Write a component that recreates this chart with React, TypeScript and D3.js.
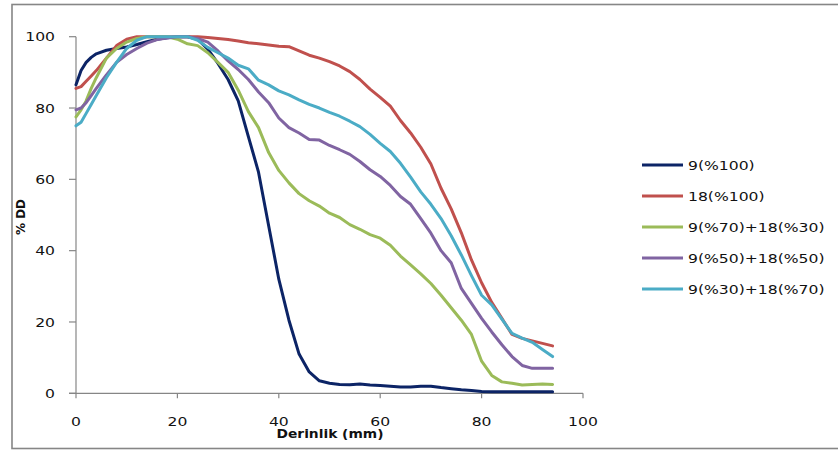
import React from "react";
import * as d3 from "d3";

const depth = [0, 1, 2, 3, 4, 6, 8, 10, 12, 14, 16, 18, 20, 22, 24, 26, 28, 30, 32, 34, 36, 38, 40, 42, 44, 46, 48, 50, 52, 54, 56, 58, 60, 62, 64, 66, 68, 70, 72, 74, 76, 78, 80, 82, 84, 86, 88, 90, 92, 94];

const s9_100 = [86.5, 90.5, 92.8, 94.2, 95.2, 96.2, 96.7, 97.1, 97.8, 98.6, 99.3, 99.7, 100, 100, 99.3, 96.5, 92.5, 88, 82, 72, 62, 47, 32, 20.5, 11, 6, 3.5, 2.8, 2.5, 2.4, 2.6, 2.3, 2.2, 2.0, 1.8, 1.8, 2.0, 2.0, 1.6, 1.3, 1.0, 0.8, 0.5, 0.4, 0.4, 0.4, 0.4, 0.4, 0.4, 0.4];
const s18_100 = [85.5, 86, 87.5, 89, 90.5, 94, 97.5, 99.3, 100, 100, 100, 100, 100, 100, 100, 99.8, 99.5, 99.2, 98.8, 98.3, 98, 97.7, 97.3, 97.2, 96, 94.8, 94, 93, 91.8, 90.2, 88, 85.3, 83, 80.5, 76.5, 73, 69, 64.3, 57.5, 51.7, 45, 37.4, 31, 25.5, 21, 16.5, 15.4, 14.7, 14, 13.3];
const s9_70_18_30 = [77.5, 79.5, 82, 85.5, 88.5, 94, 96.7, 98.5, 99.5, 100, 100, 100, 99.3, 98, 97.5, 95.5, 92.8, 90, 85, 79, 74.5, 67.5, 62.5, 59, 56, 54, 52.5, 50.5, 49.3, 47.3, 46, 44.5, 43.5, 41.5, 38.5, 36, 33.5, 30.8, 27.5, 24, 20.5, 16.5, 9, 5, 3.2, 2.8, 2.3, 2.5, 2.6, 2.5];
const s9_50_18_50 = [79.5, 80, 81.5, 83.5, 85.5, 89.3, 92.8, 95, 96.7, 98.2, 99.2, 99.6, 100, 100, 99.5, 98.5, 96, 93.2, 90.8, 88, 84.5, 81.5, 77.2, 74.5, 73, 71.2, 71, 69.5, 68.3, 67, 65, 62.7, 60.8, 58.3, 55.2, 53, 49, 44.9, 40, 36.6, 29.4, 25.2, 21, 17.2, 13.6, 10.3, 7.8, 7, 7, 7];
const s9_30_18_70 = [75, 76, 78.5, 81, 83.5, 88.5, 92.8, 96.7, 99, 100, 100, 100, 100, 100, 99, 97, 95.5, 94, 92, 91, 87.8, 86.5, 84.8, 83.7, 82.3, 81, 80, 78.8, 77.7, 76.3, 74.8, 72.6, 70.1, 67.8, 64.5, 60.6, 56.5, 53, 49, 44.2, 38.8, 33, 27.5, 24.8, 20.8, 16.8, 15.5, 14.3, 12.3, 10.3];

const seriesNames = ["9(%100)", "18(%100)", "9(%70)+18(%30)", "9(%50)+18(%50)", "9(%30)+18(%70)"];
const seriesColors = ["#0c2466", "#c0504d", "#9bbb59", "#8064a2", "#4bacc6"];
const seriesValues = [s9_100, s18_100, s9_70_18_30, s9_50_18_50, s9_30_18_70];

const xTicks = [0, 20, 40, 60, 80, 100];
const yTicks = [0, 20, 40, 60, 80, 100];
const xTitle = "Derinlik (mm)";
const yTitle = "% DD";

const W = 838;
const H = 452;
const FONT = "'DejaVu Sans', Verdana, sans-serif";
const SX = 1.25;

export default function App() {
  const x = d3.scaleLinear().domain([0, 100]).range([76, 583]);
  const y = d3.scaleLinear().domain([0, 100]).range([393.3, 36.7]);
  const axisColor = "#868686";

  const line = (vals: number[]) =>
    d3
      .line<number>()
      .x((_, i) => x(depth[i]))
      .y((v) => y(v))
      .curve(d3.curveLinear)(vals) || "";

  const legendY0 = 165;
  const legendStep = 31;

  return (
    <svg
      width={W}
      height={H}
      style={{ position: "absolute", left: 0, top: 0, background: "#fff" }}
      fontFamily={FONT}
    >
      <rect x={0} y={0} width={W} height={H} fill="#fff" />
      <rect x={12} y={4.5} width={840} height={444} fill="none" stroke={axisColor} strokeWidth={1.6} />

      {/* axes */}
      <line x1={x(0)} x2={x(0)} y1={y(100)} y2={y(0)} stroke={axisColor} strokeWidth={1.2} />
      <line x1={x(0) - 7} x2={x(100)} y1={y(0)} y2={y(0)} stroke={axisColor} strokeWidth={1.2} />
      {yTicks.map((t) => (
        <g key={"yt" + t}>
          <line x1={x(0) - 7} x2={x(0)} y1={y(t)} y2={y(t)} stroke={axisColor} strokeWidth={1.2} />
          <text
            transform={`translate(55,${y(t) + 4.6}) scale(${SX},1)`}
            textAnchor="end"
            fontSize={12.5}
            fill="#111"
          >
            {t}
          </text>
        </g>
      ))}
      {xTicks.map((t) => (
        <g key={"xt" + t}>
          <line x1={x(t)} x2={x(t)} y1={y(0)} y2={y(0) + 5} stroke={axisColor} strokeWidth={1.2} />
          <text
            transform={`translate(${x(t)},425.5) scale(${SX},1)`}
            textAnchor="middle"
            fontSize={12.5}
            fill="#111"
          >
            {t}
          </text>
        </g>
      ))}

      <text
        transform={`translate(330,438) scale(1.2,1)`}
        textAnchor="middle"
        fontSize={11.5}
        fontWeight="bold"
        fill="#111"
      >
        {xTitle}
      </text>
      <text
        transform={`translate(25,217) rotate(-90)`}
        textAnchor="middle"
        fontSize={12}
        fontWeight="bold"
        fill="#111"
      >
        {yTitle}
      </text>

      {/* series */}
      {seriesValues.map((vals, i) => (
        <path
          key={"s" + i}
          d={line(vals)}
          fill="none"
          stroke={seriesColors[i]}
          strokeWidth={3}
          strokeLinejoin="round"
          strokeLinecap="round"
        />
      ))}

      {/* legend */}
      {seriesNames.map((name, i) => {
        const ly = legendY0 + i * legendStep;
        return (
          <g key={"lg" + i}>
            <line x1={642} x2={683} y1={ly} y2={ly} stroke={seriesColors[i]} strokeWidth={3} />
            <text
              transform={`translate(688,${ly + 4.6}) scale(${SX},1)`}
              fontSize={12.5}
              fill="#111"
            >
              {name}
            </text>
          </g>
        );
      })}
    </svg>
  );
}
